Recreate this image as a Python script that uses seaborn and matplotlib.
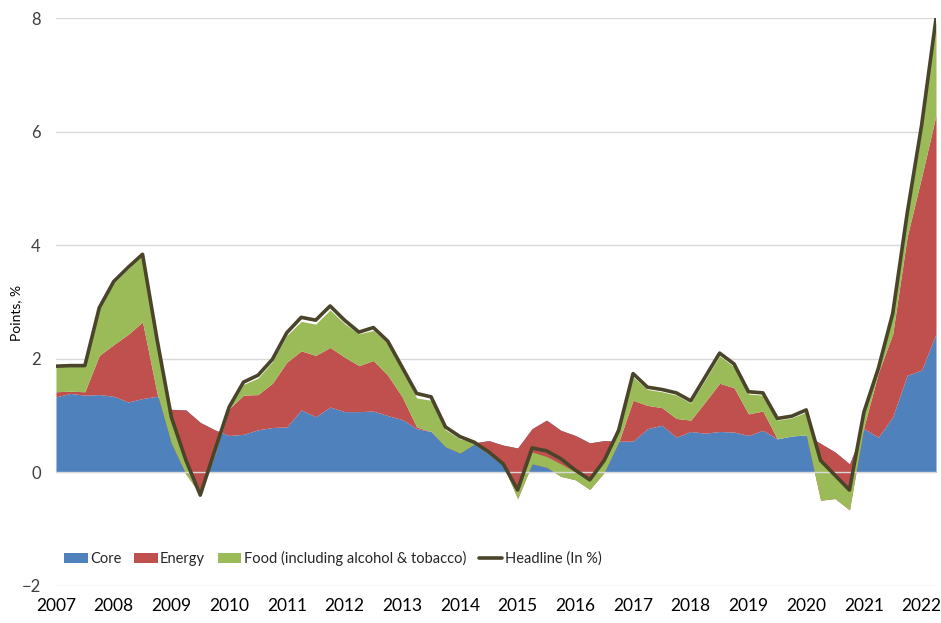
import seaborn as sns
import numpy as np
import matplotlib.pyplot as plt
import pandas as pd

# contributions to headline inflation, quarterly 2007Q1 - 2022Q2 (points)
years = list(range(2007, 2023))
core = [1.33, 1.39, 1.36, 1.37, 1.34, 1.24, 1.30, 1.34, 1.11, 1.10,
        0.88, 0.75, 0.65, 0.67, 0.75, 0.79, 0.80, 1.10, 0.98, 1.15,
        1.07, 1.07, 1.08, 1.00, 0.93, 0.77, 0.72, 0.46, 0.35, 0.52,
        0.56, 0.48, 0.43, 0.77, 0.92, 0.74, 0.65, 0.52, 0.56, 0.55,
        0.55, 0.77, 0.83, 0.62, 0.72, 0.69, 0.72, 0.71, 0.65, 0.74,
        0.59, 0.64, 0.66, 0.51, 0.36, 0.15, 0.77, 0.62, 0.98, 1.71,
        1.80, 2.44]
energy = [0.09, 0.04, 0.06, 0.69, 0.91, 1.19, 1.35, 0.06, -0.60, -1.13,
          -1.26, -0.45, 0.47, 0.69, 0.62, 0.78, 1.14, 1.04, 1.08, 1.05,
          0.96, 0.81, 0.89, 0.71, 0.40, 0.03, 0.00, -0.01, -0.01, -0.02,
          -0.24, -0.36, -0.89, -0.62, -0.83, -0.81, -0.78, -0.82, -0.56, -0.02,
          0.72, 0.41, 0.31, 0.33, 0.20, 0.55, 0.85, 0.78, 0.38, 0.34,
          0.00, 0.00, 0.00, -1.00, -0.82, -0.81, 0.03, 1.13, 1.46, 2.44,
          3.40, 3.85]
food = [0.44, 0.45, 0.46, 0.82, 1.08, 1.15, 1.17, 0.93, 0.44, 0.23,
        -0.02, 0.06, 0.01, 0.19, 0.29, 0.38, 0.47, 0.52, 0.55, 0.66,
        0.59, 0.56, 0.53, 0.56, 0.49, 0.51, 0.55, 0.30, 0.25, 0.03,
        0.02, 0.02, 0.13, 0.21, 0.19, 0.22, 0.14, 0.16, 0.19, 0.19,
        0.41, 0.28, 0.28, 0.41, 0.30, 0.39, 0.48, 0.37, 0.35, 0.28,
        0.33, 0.32, 0.40, 0.67, 0.39, 0.34, 0.22, 0.05, 0.31, 0.35,
        0.82, 1.66]
headline = [1.87, 1.88, 1.88, 2.90, 3.36, 3.61, 3.84, 2.35, 0.97, 0.22,
            -0.40, 0.38, 1.15, 1.59, 1.71, 1.99, 2.46, 2.73, 2.68, 2.93,
            2.68, 2.47, 2.55, 2.31, 1.85, 1.39, 1.33, 0.80, 0.63, 0.53,
            0.36, 0.15, -0.31, 0.43, 0.38, 0.24, 0.04, -0.13, 0.21, 0.74,
            1.74, 1.50, 1.46, 1.40, 1.26, 1.68, 2.10, 1.91, 1.42, 1.40,
            0.95, 0.99, 1.10, 0.21, -0.05, -0.31, 1.06, 1.83, 2.80, 4.56,
            6.11, 7.99]

df = pd.DataFrame({"q": np.arange(len(core)), "core": core, "energy": energy,
                   "food": food, "headline": headline})
# excel-style stacked area: running totals, later series painted on top
df["c1"] = df["core"]
df["c2"] = df["c1"] + df["energy"]
df["c3"] = df["c2"] + df["food"]

sns.set_theme(style="white")
plt.rcParams["font.family"] = ["Lato", "DejaVu Sans"]

fig = plt.figure(figsize=(9.41, 6.23), dpi=100)
ax = fig.add_axes([0.0595, 0.0594, 0.9352, 0.9117])

ax.fill_between(df["q"], 0, df["c1"], color="#4F81BD", lw=0, label="Core", zorder=2)
ax.fill_between(df["q"], df["c1"], df["c2"], color="#C0504D", lw=0, label="Energy", zorder=2)
ax.fill_between(df["q"], df["c2"], df["c3"], color="#9BBB59", lw=0,
                label="Food (including alcohol & tobacco)", zorder=2)
ax.axhline(0, color="#d9d9d9", lw=1, zorder=3)
sns.lineplot(data=df, x="q", y="headline", ax=ax, color="#4A452A", lw=2.6,
             label="Headline (In %)", zorder=4)

ax.set_xlim(0, len(core) - 1)
ax.set_ylim(-2, 8)
ax.set_yticks([-2, 0, 2, 4, 6, 8])
ax.set_xticks(np.arange(0, len(core), 4))
ax.set_xticklabels([str(y) for y in years])
ax.yaxis.grid(True, color="#d9d9d9", lw=1)
ax.set_axisbelow(True)
for s in ax.spines.values():
    s.set_visible(False)
ax.tick_params(axis="x", labelsize=12.5, pad=9, length=0, colors="#000000")
ax.tick_params(axis="y", labelsize=12, pad=11, length=0, colors="#404040")
ax.set_xlabel("")
ax.set_ylabel("Points, %", fontsize=10, color="#000000")
ax.yaxis.set_label_coords(-0.039, 0.48)

ax.legend(loc="lower left", bbox_to_anchor=(0.003, 0.025), ncol=4, frameon=False,
          fontsize=10.5, handlelength=1.6, handleheight=0.7, handletextpad=0.15,
          columnspacing=0.9, borderaxespad=0)

fig.savefig("out.png", dpi=100)
